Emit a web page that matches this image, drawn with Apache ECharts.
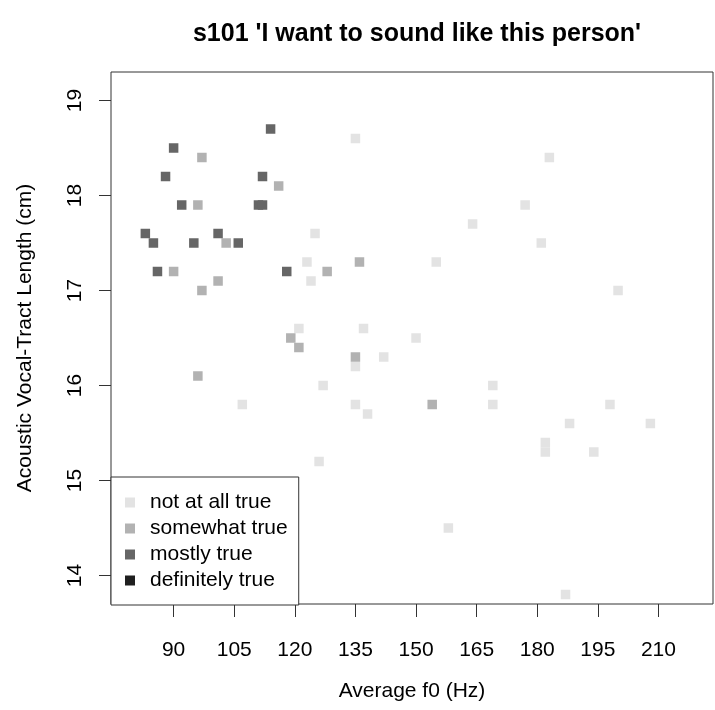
<!DOCTYPE html>
<html>
<head>
<meta charset="utf-8">
<script src="https://cdn.jsdelivr.net/npm/echarts@6/dist/echarts.min.js"></script>
<style>
html,body{margin:0;padding:0;background:#fff;}
#chart{width:715px;height:710px;}
</style>
</head>
<body>
<div id="chart"></div>
<script>
// Categories (legend order)
const categories = ['not at all true', 'somewhat true', 'mostly true', 'definitely true'];
const categoryColors = ['#e3e3e3', '#b2b2b2', '#666666', '#1f1f1f'];

// Series values: Average f0 (Hz) and Acoustic VTL (cm)
const notAtAllX = [125,123,124,121,107,127,135,164,155,137,150,135,142,169,135,169,138,183,177,181,200,198,188,208,182,182,194,158,187,126];
const notAtAllY = [17.6,17.3,17.1,16.6,15.8,16.0,18.6,17.7,17.3,16.6,16.5,16.2,16.3,16.0,15.8,15.8,15.7,18.4,17.9,17.5,17.0,15.8,15.6,15.6,15.4,15.3,15.3,14.5,13.8,15.2];

const somewhatX = [97,116,96,103,90,101,97,119,121,96,136,128,135,154];
const somewhatY = [18.4,18.1,17.9,17.5,17.2,17.1,17.0,16.5,16.4,16.1,17.3,17.2,16.3,15.8];

const mostlyX = [114,90,88,112,92,111,112,83,85,95,101,106,86,118];
const mostlyY = [18.7,18.5,18.2,18.2,17.9,17.9,17.9,17.6,17.5,17.5,17.6,17.5,17.2,17.2];

const definitelyX = [];
const definitelyY = [];

// Tick labels
const xTicks = [90,105,120,135,150,165,180,195,210];
const yTicks = [14,15,16,17,18,19];

const FONT = 'Liberation Sans, Arial, sans-serif';

function pairs(xs, ys){ return xs.map((x,i)=>[x, ys[i]]); }
const seriesX = [notAtAllX, somewhatX, mostlyX, definitelyX];
const seriesY = [notAtAllY, somewhatY, mostlyY, definitelyY];

const chart = echarts.init(document.getElementById('chart'), null, {renderer:'canvas'});
chart.setOption({
  animation: false,
  backgroundColor: '#ffffff',
  title: {
    text: "s101 'I want to sound like this person'",
    left: 412, top: 17, textAlign: 'center',
    textStyle: {fontFamily: FONT, fontWeight: 'bold', fontSize: 25, color: '#000'}
  },
  grid: {
    left: 111, right: 2, top: 72, bottom: 106,
    show: true, borderColor: '#333', borderWidth: 1, backgroundColor: 'transparent',
    containLabel: false, outerBoundsMode: 'none'
  },
  legend: {
    orient: 'vertical', left: 111, top: 477,
    padding: [15, 11, 14, 14],
    itemGap: 5, itemWidth: 10, itemHeight: 10, icon: 'rect',
    backgroundColor: '#ffffff', borderColor: '#333', borderWidth: 1,
    textStyle: {fontFamily: FONT, fontSize: 21, color: '#000', lineHeight: 21, padding: [0,0,0,10]},
    data: categories,
    selectedMode: false,
    z: 10
  },
  xAxis: {
    type: 'value', min: 74.5, max: 223.5,
    name: 'Average f0 (Hz)', nameLocation: 'middle', nameGap: 77,
    nameTextStyle: {fontFamily: FONT, fontSize: 21, color: '#000'},
    axisLine: {show: false},
    axisTick: {show: true, customValues: xTicks, length: 13, lineStyle: {color: '#333', width: 1}},
    axisLabel: {customValues: xTicks, margin: 36, fontFamily: FONT, fontSize: 21, color: '#000'},
    splitLine: {show: false}
  },
  yAxis: {
    type: 'value', min: 13.7, max: 19.3,
    name: 'Acoustic Vocal-Tract Length (cm)', nameLocation: 'middle', nameGap: 75,
    nameTextStyle: {fontFamily: FONT, fontSize: 21, color: '#000'},
    axisLine: {show: false},
    axisTick: {show: true, customValues: yTicks, length: 12, lineStyle: {color: '#333', width: 1}},
    axisLabel: {customValues: yTicks, rotate: 90, margin: 25, fontFamily: FONT, fontSize: 21, color: '#000'},
    splitLine: {show: false}
  },
  series: categories.map((name, i) => ({
    name: name,
    type: 'scatter',
    symbol: 'rect',
    symbolSize: 9.5,
    itemStyle: {color: categoryColors[i], opacity: 1},
    emphasis: {disabled: true},
    data: pairs(seriesX[i], seriesY[i])
  }))
});
</script>
</body>
</html>
